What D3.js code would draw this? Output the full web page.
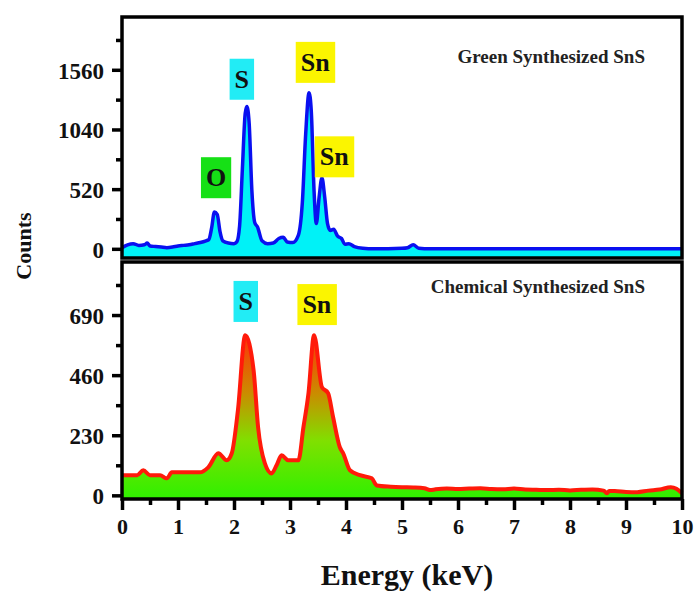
<!DOCTYPE html>
<html>
<head>
<meta charset="utf-8">
<script src="https://cdn.jsdelivr.net/npm/d3@7"></script>
<style>
  body { margin: 0; background: #fff; }
  text { font-family: "Liberation Serif", "Times New Roman", serif; font-weight: bold; }
</style>
</head>
<body>
<div id="chart"></div>
<script>
// EDS spectra, energy in keV and counts
const greenEnergy = [0, 0.1, 0.2, 0.3, 0.4, 0.45, 0.5, 0.6, 0.7, 0.8, 0.9, 1.0, 1.1, 1.2, 1.3, 1.4, 1.5, 1.55, 1.6, 1.65, 1.7, 1.75, 1.8, 1.9, 2.0, 2.05, 2.1, 2.15, 2.2, 2.23, 2.27, 2.32, 2.37, 2.42, 2.5, 2.6, 2.7, 2.8, 2.88, 2.95, 3.05, 3.15, 3.22, 3.28, 3.34, 3.38, 3.43, 3.47, 3.52, 3.57, 3.62, 3.67, 3.72, 3.78, 3.85, 3.92, 3.98, 4.05, 4.15, 4.3, 4.5, 5.0, 5.1, 5.2, 5.3, 5.5, 6, 7, 8, 9, 10];
const greenCounts = [10, 35, 45, 30, 35, 50, 25, 20, 15, 10, 15, 25, 30, 35, 45, 55, 70, 80, 180, 320, 300, 150, 70, 50, 45, 60, 200, 700, 1180, 1240, 1100, 500, 230, 190, 70, 45, 50, 90, 100, 60, 55, 120, 400, 1000, 1360, 1200, 500, 220, 450, 620, 450, 220, 160, 170, 110, 90, 40, 45, 20, 5, 0, 5, 10, 35, 5, 0, 0, 0, 0, 0, 0];

const chemEnergy = [0, 0.27, 0.38, 0.5, 0.68, 0.8, 0.89, 1.39, 1.54, 1.72, 1.87, 1.96, 2.07, 2.2, 2.35, 2.43, 2.55, 2.67, 2.76, 2.85, 2.97, 3.15, 3.24, 3.33, 3.43, 3.57, 3.68, 3.77, 3.89, 3.95, 4.07, 4.25, 4.46, 4.55, 4.8, 5.0, 5.2, 5.4, 5.5, 5.6, 5.8, 6.0, 6.2, 6.4, 6.6, 6.8, 7.0, 7.2, 7.4, 7.6, 7.8, 8.0, 8.2, 8.4, 8.6, 8.66, 8.7, 8.8, 9.0, 9.2, 9.4, 9.6, 9.8, 9.9, 10];
const chemCounts = [77, 77, 96, 77, 77, 65, 88, 88, 107, 161, 134, 161, 326, 613, 479, 261, 123, 84, 115, 153, 134, 134, 261, 391, 613, 414, 391, 299, 184, 161, 96, 77, 65, 38, 33, 31, 30, 27, 20, 23, 26, 24, 26, 27, 24, 23, 26, 22, 21, 20, 21, 19, 21, 22, 18, 8, 17, 17, 13, 12, 18, 22, 31, 25, 8];

const xTicks = [0, 1, 2, 3, 4, 5, 6, 7, 8, 9, 10];
const topYTicks = [0, 520, 1040, 1560];
const bottomYTicks = [0, 230, 460, 690];

const greenTags = ["O", "S", "Sn", "Sn"];
const greenTagEnergy = [1.68, 2.14, 3.45, 3.79];
const greenTagCounts = [624, 1482, 1629, 806];
const greenTagColor = ["#16e016", "#22ecf5", "#fbf500", "#fbf500"];

const chemTags = ["S", "Sn"];
const chemTagEnergy = [2.21, 3.48];
const chemTagCounts = [744, 732];
const chemTagColor = ["#22ecf5", "#fbf500"];

const width = 696, height = 593;
const left = 122, right = 682;

const svg = d3.select("#chart").append("svg")
    .attr("width", width)
    .attr("height", height);

const defs = svg.append("defs");

const x = d3.scaleLinear().domain([0, 10]).range([left, right]);

function drawPanel(cfg) {
    const y = d3.scaleLinear().domain(cfg.domain).range([cfg.bottom, cfg.top]);
    const pts = cfg.energy.map((e, i) => [e, cfg.counts[i]]);
    const g = svg.append("g");

    const area = d3.area()
        .x(d => x(d[0]))
        .y0(y(cfg.domain[0]))
        .y1(d => y(d[1]))
        .curve(d3.curveMonotoneX);
    const line = d3.line()
        .x(d => x(d[0]))
        .y(d => y(d[1]))
        .curve(d3.curveMonotoneX);

    g.append("path").datum(pts)
        .attr("d", area)
        .attr("fill", cfg.fill);
    g.append("path").datum(pts)
        .attr("d", line)
        .attr("fill", "none")
        .attr("stroke", cfg.stroke)
        .attr("stroke-width", cfg.strokeWidth)
        .attr("stroke-linejoin", "round");

    // frame
    g.append("rect")
        .attr("x", left).attr("y", cfg.top)
        .attr("width", right - left).attr("height", cfg.bottom - cfg.top)
        .attr("fill", "none").attr("stroke", "#000").attr("stroke-width", 3.5);

    // y axis, minor ticks half way
    const minor = cfg.ticks.map(v => v + cfg.step / 2).filter(v => v < cfg.domain[1]);
    const yMinor = g.append("g")
        .attr("transform", `translate(${left},0)`)
        .call(d3.axisLeft(y).tickValues(minor).tickSize(6).tickFormat(""));
    const yAxis = g.append("g")
        .attr("transform", `translate(${left},0)`)
        .call(d3.axisLeft(y).tickValues(cfg.ticks).tickSize(10).tickPadding(8).tickFormat(d3.format("d")));
    [yMinor, yAxis].forEach(a => {
        a.select(".domain").remove();
        a.selectAll("line").attr("stroke", "#000").attr("stroke-width", 3.5);
    });
    yAxis.selectAll("text")
        .attr("font-size", 23)
        .attr("fill", "#111")
        .attr("dy", "0.36em");

    // title
    g.append("text")
        .attr("x", 645).attr("y", cfg.titleY)
        .attr("text-anchor", "end")
        .attr("font-size", 19)
        .attr("fill", "#222")
        .text(cfg.title);

    // element tags
    cfg.tags.forEach((t, i) => {
        const cx = x(cfg.tagEnergy[i]), cy = y(cfg.tagCounts[i]);
        const tg = g.append("g");
        const txt = tg.append("text")
            .attr("x", cx).attr("y", cy)
            .attr("text-anchor", "middle")
            .attr("dy", "0.35em")
            .attr("font-size", 26)
            .attr("fill", "#111")
            .text(t);
        const bb = txt.node().getBBox();
        tg.insert("rect", "text")
            .attr("x", bb.x - 5).attr("y", cy - 20)
            .attr("width", bb.width + 10).attr("height", 41)
            .attr("fill", cfg.tagColor[i]);
    });
    return y;
}

drawPanel({
    energy: greenEnergy, counts: greenCounts,
    domain: [-80, 2020], top: 17, bottom: 258,
    ticks: topYTicks, step: 520,
    fill: "#00f2f7", stroke: "#0a10f0", strokeWidth: 3.5,
    title: "Green Synthesized SnS", titleY: 63,
    tags: greenTags, tagEnergy: greenTagEnergy, tagCounts: greenTagCounts, tagColor: greenTagColor
});

// gradient for the lower spectrum, green at base to red at the peaks
const grad = defs.append("linearGradient")
    .attr("id", "chemFill")
    .attr("gradientUnits", "userSpaceOnUse")
    .attr("x1", 0).attr("x2", 0)
    .attr("y1", 498).attr("y2", 335);
grad.append("stop").attr("offset", 0).attr("stop-color", "#30f000");
grad.append("stop").attr("offset", 0.35).attr("stop-color", "#80e000");
grad.append("stop").attr("offset", 0.65).attr("stop-color", "#cc8a00");
grad.append("stop").attr("offset", 1).attr("stop-color", "#ff3208");

drawPanel({
    energy: chemEnergy, counts: chemCounts,
    domain: [-14, 893], top: 262, bottom: 499,
    ticks: bottomYTicks, step: 230,
    fill: "url(#chemFill)", stroke: "#ff1a0a", strokeWidth: 4,
    title: "Chemical Synthesized SnS", titleY: 293,
    tags: chemTags, tagEnergy: chemTagEnergy, tagCounts: chemTagCounts, tagColor: chemTagColor
});

// shared x axis on the lower panel
const xMinor = svg.append("g")
    .attr("transform", "translate(0,499)")
    .call(d3.axisBottom(x).tickValues(xTicks.slice(0, -1).map(v => v + 0.5)).tickSize(6).tickFormat(""));
const xAxis = svg.append("g")
    .attr("transform", "translate(0,499)")
    .call(d3.axisBottom(x).tickValues(xTicks).tickSize(11).tickPadding(8));
[xMinor, xAxis].forEach(a => {
    a.select(".domain").remove();
    a.selectAll("line").attr("stroke", "#000").attr("stroke-width", 3.5);
});
xAxis.selectAll("text")
    .attr("font-size", 22)
    .attr("fill", "#111");

svg.append("text")
    .attr("x", 407).attr("y", 585)
    .attr("text-anchor", "middle")
    .attr("font-size", 30)
    .attr("fill", "#111")
    .text("Energy (keV)");

svg.append("text")
    .attr("transform", "translate(31,246) rotate(-90)")
    .attr("text-anchor", "middle")
    .attr("font-size", 22)
    .attr("fill", "#111")
    .text("Counts");
</script>
</body>
</html>
